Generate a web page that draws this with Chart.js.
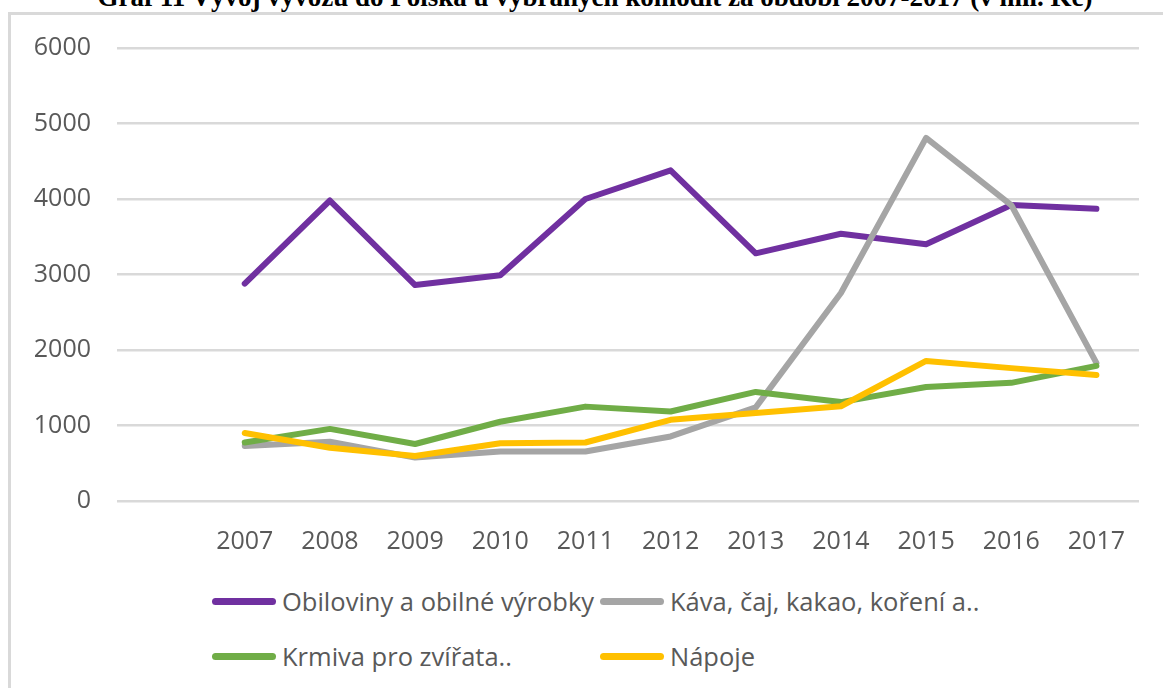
<!DOCTYPE html>
<html>
<head>
<meta charset="utf-8">
<script src="https://cdn.jsdelivr.net/npm/chart.js@4/dist/chart.umd.min.js"></script>
<style>
  body { margin: 0; background: #fff; }
  #wrap { position: relative; width: 1163px; height: 688px; overflow: hidden; background: #fff; }
  #frame { position: absolute; left: 8px; top: 12px; width: 1200px; height: 700px;
           border-left: 3px solid #d9d9d9; border-top: 3px solid #d9d9d9; }
  #title { position: absolute; left: 0; width: 1190px; top: -18px; text-align: center;
           font: bold 27px "Liberation Serif", "Times New Roman", serif; color: #000; white-space: nowrap; }
  #chart { position: absolute; left: 0; top: 0; }
  #legend { position: absolute; left: 0; top: 0; font-family: "Open Sans", sans-serif; font-size: 25.5px; color: #595959; }
  .item { position: absolute; white-space: nowrap; display: flex; align-items: center; }
  .swatch { display: inline-block; width: 64px; height: 7px; border-radius: 4px; margin-right: 6px; }
</style>
</head>
<body>
<div id="wrap">
  <div id="frame"></div>
  <div id="title">Graf 11 Vývoj vývozu do Polska u vybraných komodit za období 2007-2017 (v mil. Kč)</div>
  <canvas id="chart" width="1163" height="570"></canvas>
  <div id="legend"></div>
</div>
<script>
// data (mil. Kč)
let years = ['2007', '2008', '2009', '2010', '2011', '2012', '2013', '2014', '2015', '2016', '2017']
let seriesNames = ['Obiloviny a obilné výrobky', 'Káva, čaj, kakao, koření a..', 'Krmiva pro zvířata..', 'Nápoje']
let obiloviny = [2880, 3980, 2860, 2990, 4000, 4380, 3280, 3540, 3400, 3920, 3870]
let kava = [730, 785, 575, 655, 655, 855, 1240, 2755, 4810, 3920, 1830]
let krmiva = [775, 955, 755, 1050, 1250, 1185, 1445, 1310, 1510, 1565, 1790]
let napoje = [900, 705, 595, 765, 775, 1075, 1165, 1255, 1855, 1760, 1670]
let yTicks = [0, 1000, 2000, 3000, 4000, 5000, 6000]

let seriesColors = ['#7030a0', '#a5a5a5', '#70ad47', '#ffc000']
let seriesValues = [obiloviny, kava, krmiva, napoje]

// the excel chart has an empty first category, so the lines start one slot in
let labels = [''].concat(years)

let datasets = seriesValues.map(function(values, i) {
    return {
        label: seriesNames[i],
        data: [null].concat(values),
        borderColor: seriesColors[i],
        backgroundColor: seriesColors[i],
        borderWidth: 6,
        borderCapStyle: 'round',
        borderJoinStyle: 'round',
        pointRadius: 0,
        tension: 0,
        order: 4 - i  // later series drawn on top
    }
})

let tickFont = { family: 'Open Sans', size: 25 }

let chart = new Chart(document.querySelector('#chart').getContext('2d'), {
    type: 'line',
    data: { labels: labels, datasets: datasets },
    options: {
        responsive: false,
        animation: false,
        devicePixelRatio: 1,
        layout: { padding: { top: 48, left: 0, right: 24, bottom: 0 } },
        plugins: { legend: { display: false }, tooltip: { enabled: false } },
        scales: {
            x: {
                offset: true,
                grid: { display: false },
                border: { display: false },
                ticks: { color: '#595959', font: tickFont, padding: 18, maxRotation: 0, autoSkip: false },
                afterFit: function(scale) { scale.height = 69 }
            },
            y: {
                min: 0,
                max: 6000,
                afterBuildTicks: function(scale) { scale.ticks = yTicks.map(v => ({ value: v })) },
                grid: { color: '#d9d9d9', lineWidth: 2.5, drawTicks: false },
                border: { display: false },
                ticks: { color: '#595959', font: tickFont, padding: 26, callback: v => String(v) },
                afterFit: function(scale) { scale.width = 117 }
            }
        }
    }
})

// legend laid out in two columns like the original
let legendBox = document.querySelector('#legend')
let legendPos = [[212, 601], [600, 601], [212, 656], [600, 656]]
seriesNames.forEach(function(name, i) {
    let item = document.createElement('div')
    item.className = 'item'
    item.style.left = legendPos[i][0] + 'px'
    item.style.top = (legendPos[i][1] - 18) + 'px'
    item.style.height = '36px'
    let sw = document.createElement('span')
    sw.className = 'swatch'
    sw.style.background = seriesColors[i]
    item.appendChild(sw)
    item.appendChild(document.createTextNode(name))
    legendBox.appendChild(item)
})
</script>
</body>
</html>
